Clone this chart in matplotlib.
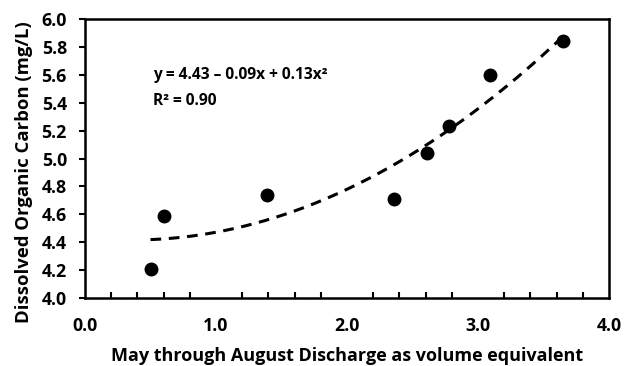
import numpy as np
import matplotlib
matplotlib.use("Agg")
import matplotlib.pyplot as plt

# Data
discharge = [0.50, 0.60, 1.39, 2.36, 2.61, 2.78, 3.09, 3.65]
doc = [4.21, 4.59, 4.74, 4.71, 5.04, 5.23, 5.60, 5.84]
x_ticks = [0.0, 1.0, 2.0, 3.0, 4.0]
y_ticks = [4.0, 4.2, 4.4, 4.6, 4.8, 5.0, 5.2, 5.4, 5.6, 5.8, 6.0]
equation = "y = 4.43 \u2013 0.09x + 0.13x\u00b2"
r2_text = "R\u00b2 = 0.90"
x_label = "May through August Discharge as volume equivalent"
y_label = "Dissolved Organic Carbon (mg/L)"

plt.rcParams['font.family'] = ['Open Sans', 'DejaVu Sans']
plt.rcParams['font.weight'] = 'bold'

fig = plt.figure(figsize=(6.33, 3.66), dpi=100)
ax = fig.add_axes([0.1343, 0.1858, 0.962 - 0.1343, 0.948 - 0.1858])

# Quadratic trendline fitted to the data
coef = np.polyfit(discharge, doc, 2)
xs = np.linspace(min(discharge), max(discharge), 200)
ax.plot(xs, np.polyval(coef, xs), color='black', lw=2.2, ls=(0, (3.5, 2.5)), zorder=2)

ax.plot(discharge, doc, 'o', color='black', markersize=9, zorder=3)

ax.set_xlim(0, 4)
ax.set_ylim(4, 6)
ax.set_xticks(x_ticks)
ax.set_xticklabels([f"{v:.1f}" for v in x_ticks])
ax.set_xticks(np.arange(0.2, 4.0, 0.2), minor=True)
ax.set_yticks(y_ticks)
ax.set_yticklabels([f"{v:.1f}" for v in y_ticks])

ax.tick_params(axis='x', which='major', direction='in', length=0, pad=14, labelsize=12.8)
ax.tick_params(axis='x', which='minor', direction='in', length=4, width=1.5)
ax.tick_params(axis='y', which='major', direction='out', length=4, width=1.5, pad=9, labelsize=12.8)

for s in ax.spines.values():
    s.set_linewidth(1.8)

ax.set_xlabel(x_label, fontsize=13, fontweight='bold', labelpad=8)
ax.set_ylabel(y_label, fontsize=13.3, fontweight='bold', va='center')
ax.yaxis.set_label_coords(-0.116, 0.453)

ax.text(0.13, 0.80, equation, transform=ax.transAxes, fontsize=11.2, fontweight='bold', va='center')
ax.text(0.13, 0.705, r2_text, transform=ax.transAxes, fontsize=11.2, fontweight='bold', va='center')

fig.savefig("out.png", dpi=100)
